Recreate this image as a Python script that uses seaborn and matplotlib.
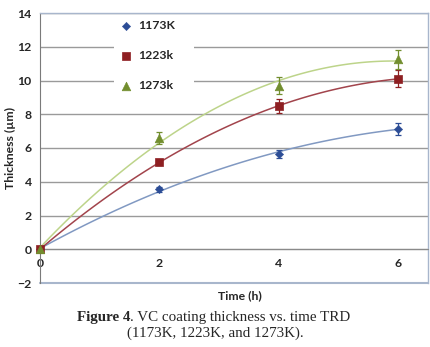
import numpy as np
import pandas as pd
import seaborn as sns
import matplotlib.pyplot as plt

# thickness (um) vs time (h), three TRD temperatures
time_h = [0, 2, 4, 6]
series = ["1173K", "1223k", "1273k"]
thick_1173 = [0, 3.55, 5.65, 7.15]
thick_1223 = [0, 5.15, 8.5, 10.1]
thick_1273 = [0, 6.6, 9.7, 11.25]
err_1173 = [0, 0.15, 0.25, 0.35]
err_1223 = [0, 0.15, 0.42, 0.5]
err_1273 = [0, 0.35, 0.5, 0.55]

df = pd.DataFrame({
    "time": time_h * 3,
    "thick": thick_1173 + thick_1223 + thick_1273,
    "err": err_1173 + err_1223 + err_1273,
    "temp": [s for s in series for _ in time_h],
})

mk_colors = {"1173K": "#2C4D96", "1223k": "#8E1F22", "1273k": "#728E2E"}
ln_colors = {"1173K": "#8199C2", "1223k": "#A2444C", "1273k": "#BDD48A"}
markers = {"1173K": "D", "1223k": "s", "1273k": "^"}
sizes = {"1173K": 18, "1223k": 38, "1273k": 38}

sns.set_style("white")
plt.rcParams["font.family"] = ["Lato", "DejaVu Sans"]
fs = 8.8

fig = plt.figure(figsize=(4.31, 3.47), dpi=100)
ax = fig.add_axes([40 / 431, 64 / 347, 388 / 431, 270 / 347])

# 2nd order polynomial trendlines (Excel style)
for s in series:
    d = df[df.temp == s]
    coef = np.polyfit(d.time, d.thick, 2)
    xs = np.linspace(0, 6, 100)
    trend = pd.DataFrame({"time": xs, "thick": np.polyval(coef, xs)})
    sns.lineplot(data=trend, x="time", y="thick", color=ln_colors[s], lw=1.1, ax=ax, zorder=3)

for s in series:
    d = df[df.temp == s]
    ax.errorbar(d.time, d.thick, yerr=d.err, fmt="none", ecolor=mk_colors[s],
                elinewidth=0.9, capsize=2, capthick=0.9, zorder=4)
    sns.scatterplot(data=d, x="time", y="thick", marker=markers[s], s=sizes[s],
                    color=mk_colors[s], edgecolor=mk_colors[s], label=s, ax=ax,
                    zorder=5, clip_on=False)

ax.set_xlim(0, 6.5)
ax.set_ylim(-2, 14)
ax.set_xticks([0, 2, 4, 6])
ax.set_yticks(range(-2, 15, 2))
ax.yaxis.grid(True, color="#9A9A9A", lw=1)
ax.set_axisbelow(True)

for side in ["top", "right"]:
    ax.spines[side].set_color("#A8B6CC")
    ax.spines[side].set_linewidth(1)
ax.spines["left"].set_color("#7A7A7A")
ax.spines["bottom"].set_position(("data", 0))
ax.spines["bottom"].set_color("#8A8A8A")
ax.axhline(-2, color="#A8B6CC", lw=1.5, clip_on=False)

ax.tick_params(axis="x", direction="out", length=3, width=0.8, color="#7A7A7A", pad=3)
ax.tick_params(axis="y", length=0, pad=6)
for lab in ax.get_xticklabels() + ax.get_yticklabels():
    lab.set_fontsize(fs)
    lab.set_fontweight("bold")

ax.set_xlabel("")
ax.set_ylabel("Thickness (µm)", fontsize=fs, fontweight="bold")
ax.yaxis.set_label_coords(-0.062, 0.5)
fig.text(240 / 431, 1 - 296 / 347, "Time (h)", fontsize=fs, fontweight="bold",
         ha="center", va="center")

leg = ax.legend(loc="upper left", bbox_to_anchor=(0.175, 0.7, 0.237, 0.31),
                mode="expand", frameon=True,
                labelspacing=1.55, handletextpad=0.25, borderpad=0.3,
                handlelength=1.4, prop={"size": fs, "weight": "bold"})
leg.get_frame().set_facecolor("white")
leg.get_frame().set_edgecolor("none")
leg.get_frame().set_alpha(1)

# caption
serif = ["Liberation Serif", "DejaVu Serif"]
cfs = 10.8
cap1 = fig.text(77 / 431, 1 - 318 / 347, "Figure 4", fontsize=cfs, fontweight="bold",
                family=serif, ha="left", va="center")
fig.canvas.draw()
bb = cap1.get_window_extent()
fig.text(bb.x1 / fig.bbox.width, 1 - 318 / 347, ". VC coating thickness vs. time TRD",
         fontsize=cfs, family=serif, ha="left", va="center")
fig.text(215 / 431, 1 - 333 / 347, "(1173K, 1223K, and 1273K).", fontsize=cfs,
         family=serif, ha="center", va="center")

fig.savefig("out.png", dpi=100)
